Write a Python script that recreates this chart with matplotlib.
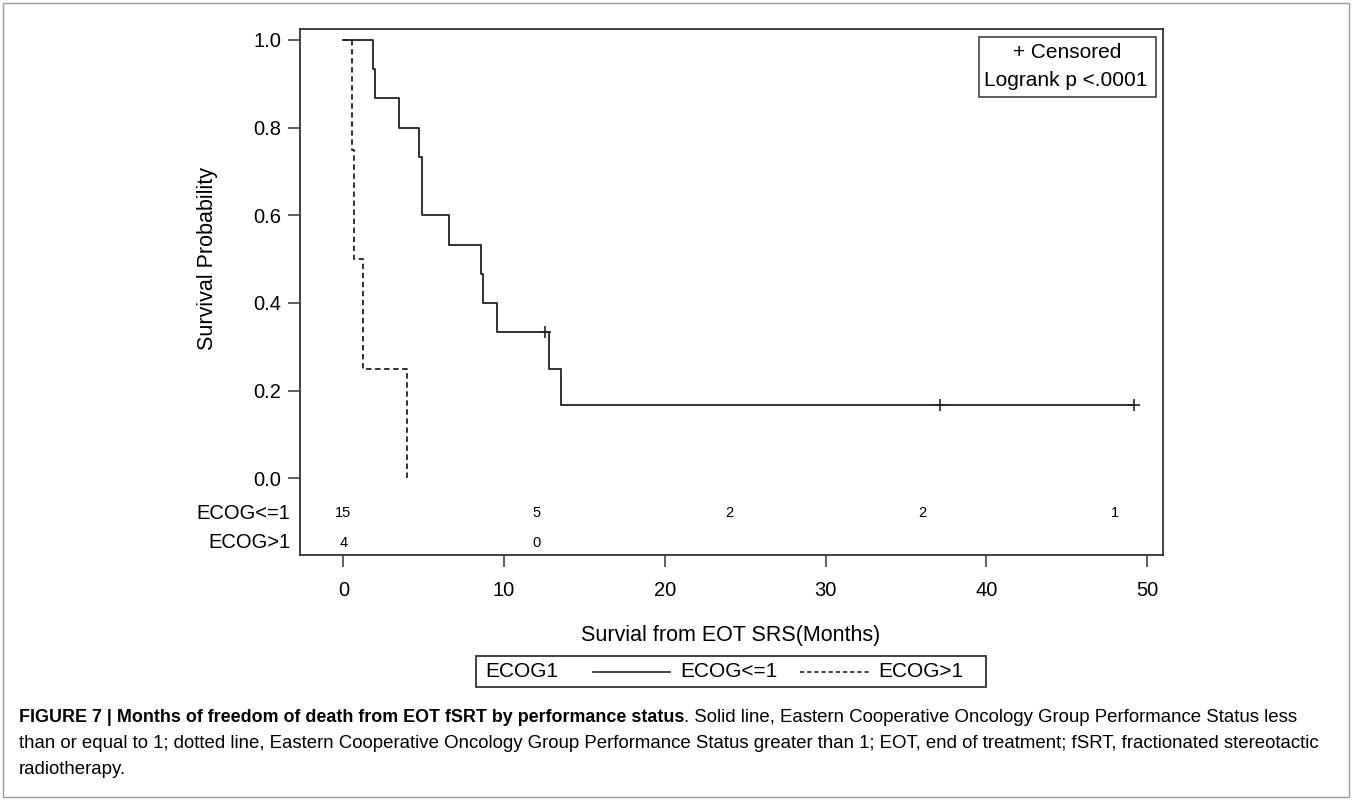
import matplotlib
matplotlib.use("Agg")
import matplotlib.pyplot as plt
from matplotlib.patches import Rectangle
from matplotlib.lines import Line2D
import matplotlib.transforms as mtransforms

# ---------------- data ----------------
solid_times = [0, 1.83, 1.95, 3.45, 4.73, 4.88, 4.92, 6.6, 8.55, 8.71, 9.55, 12.8, 13.55, 49.2]
solid_surv = [1.0, 0.933, 0.867, 0.800, 0.733, 0.667, 0.600, 0.533, 0.467, 0.400, 0.333, 0.250, 0.167, 0.167]
solid_cens_times = [12.55, 37.1, 49.2]
solid_cens_surv = [0.333, 0.167, 0.167]

dashed_times = [0, 0.52, 0.69, 1.2, 3.98]
dashed_surv = [1.0, 0.75, 0.50, 0.25, 0.0]

risk_times_le1 = [0, 12, 24, 36, 48]
risk_le1 = [15, 5, 2, 2, 1]
risk_times_gt1 = [0, 12]
risk_gt1 = [4, 0]
risk_row_labels = ["ECOG<=1", "ECOG>1"]
risk_row_y = [-0.080, -0.147]

xticks = [0, 10, 20, 30, 40, 50]
yticks = [0.0, 0.2, 0.4, 0.6, 0.8, 1.0]
ytick_labels = ["0.0", "0.2", "0.4", "0.6", "0.8", "1.0"]

legend_title = "ECOG1"
legend_labels = ["ECOG<=1", "ECOG>1"]
inset_lines = ["+ Censored", "Logrank p <.0001"]
xlabel = "Survial from EOT SRS(Months)"
ylabel = "Survival Probability"
caption_bold = "FIGURE 7 | Months of freedom of death from EOT fSRT by performance status"
caption_rest1 = ". Solid line, Eastern Cooperative Oncology Group Performance Status less"
caption_line2 = "than or equal to 1; dotted line, Eastern Cooperative Oncology Group Performance Status greater than 1; EOT, end of treatment; fSRT, fractionated stereotactic"
caption_line3 = "radiotherapy."

# ---------------- style ----------------
plt.rcParams['font.family'] = ['Liberation Sans', 'DejaVu Sans']
W, H = 1352, 800
fig = plt.figure(figsize=(W / 100, H / 100), dpi=100)
fig.patch.set_facecolor('white')

def fx(x):
    return x / W

def fy(y):
    return 1 - y / H

line_col = '#222222'
spine_col = '#333333'

ax = fig.add_axes([fx(300), fy(555), fx(1163) - fx(300), fy(29) - fy(555)])
ax.set_xlim(-2.7, 51.0)
ax.set_ylim(-0.175, 1.025)
for s in ax.spines.values():
    s.set_color(spine_col)
    s.set_linewidth(1.3)

ax.step(solid_times, solid_surv, where='post', color=line_col, lw=1.3)
ax.step(dashed_times, dashed_surv, where='post', color=line_col, lw=1.3,
        linestyle=(0, (3, 2)))
ax.plot(solid_cens_times, solid_cens_surv, linestyle='none', marker='+',
        markersize=8, markeredgewidth=1.2, color=line_col)

ax.set_xticks(xticks)
ax.set_xticklabels([str(t) for t in xticks])
ax.set_yticks(yticks)
ax.set_yticklabels(ytick_labels)
ax.tick_params(axis='x', length=8.5, width=1.1, color=spine_col, labelsize=14.5, pad=10)
ax.tick_params(axis='y', length=8.5, width=1.1, color=spine_col, labelsize=14.5, pad=5)

# at-risk table
for t, n in zip(risk_times_le1, risk_le1):
    ax.text(t, risk_row_y[0], str(n), ha='center', va='center', fontsize=10.5)
for t, n in zip(risk_times_gt1, risk_gt1):
    ax.text(t, risk_row_y[1], str(n), ha='center', va='center', fontsize=10.5)
trans = mtransforms.blended_transform_factory(ax.transAxes, ax.transData)
for lab, yv in zip(risk_row_labels, risk_row_y):
    ax.text(-10 / 863, yv, lab, transform=trans, ha='right', va='center', fontsize=14.5)

# axis labels
fig.text(fx(208), fy(258), ylabel, rotation=90, ha='center', va='center', fontsize=15.5)
fig.text(fx(731), fy(635), xlabel, ha='center', va='center', fontsize=15.5)

# inset box (censored / logrank)
fig.patches.append(Rectangle((fx(979), fy(97)), fx(1156) - fx(979), fy(37) - fy(97),
                             transform=fig.transFigure, fill=False, edgecolor=spine_col, lw=1.1))
fig.text(fx(1067), fy(53), inset_lines[0], ha='center', va='center', fontsize=15)
fig.text(fx(1066), fy(81), inset_lines[1], ha='center', va='center', fontsize=15)

# bottom legend
fig.patches.append(Rectangle((fx(476), fy(687)), fx(986) - fx(476), fy(656) - fy(687),
                             transform=fig.transFigure, fill=False, edgecolor=spine_col, lw=1.3))
ly = fy(671.5)
fig.text(fx(485), ly, legend_title, ha='left', va='center', fontsize=15)
fig.lines.append(Line2D([fx(593), fx(670)], [ly, ly], transform=fig.transFigure,
                        color=line_col, lw=1.2))
fig.text(fx(680.5), ly, legend_labels[0], ha='left', va='center', fontsize=15)
fig.lines.append(Line2D([fx(800), fx(870)], [ly, ly], transform=fig.transFigure,
                        color=line_col, lw=1.2, linestyle=(0, (2.5, 1.8))))
fig.text(fx(878), ly, legend_labels[1], ha='left', va='center', fontsize=15)

# caption
cap_fs = 13.4
t1 = fig.text(fx(19), fy(717), caption_bold, ha='left', va='center', fontsize=12.9,
              fontweight='bold')
fig.canvas.draw()
r = fig.canvas.get_renderer()
bb = t1.get_window_extent(renderer=r)
fig.text(bb.x1 / W, fy(717), caption_rest1, ha='left', va='center', fontsize=cap_fs)
fig.text(fx(19), fy(744), caption_line2, ha='left', va='center', fontsize=cap_fs)
fig.text(fx(19), fy(770), caption_line3, ha='left', va='center', fontsize=cap_fs)

# figure border
fig.patches.append(Rectangle((fx(3), fy(797)), fx(1349) - fx(3), fy(3) - fy(797),
                             transform=fig.transFigure, fill=False, edgecolor='#9a9a9a', lw=1))

fig.savefig("out.png", dpi=100)
